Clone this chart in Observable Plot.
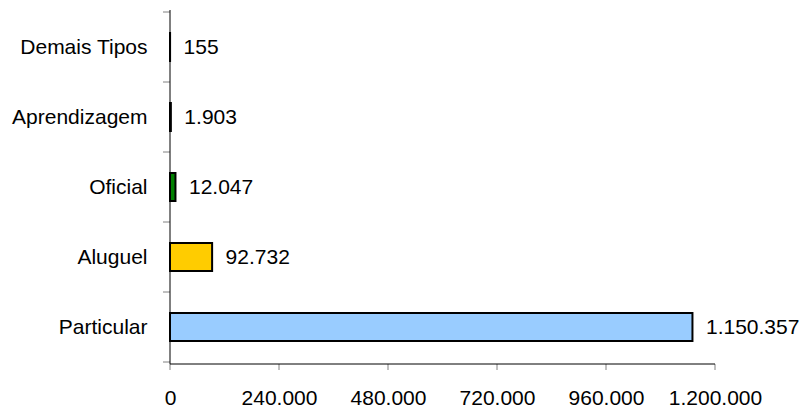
<!DOCTYPE html>
<html>
<head>
<meta charset="utf-8">
<script src="https://cdn.jsdelivr.net/npm/d3@7"></script>
<script src="https://cdn.jsdelivr.net/npm/@observablehq/plot@0.6"></script>
<style>
  html, body { margin: 0; padding: 0; background: #ffffff; }
</style>
</head>
<body>
<div id="chart"></div>
<script>
const categories = ["Demais Tipos", "Aprendizagem", "Oficial", "Aluguel", "Particular"];
const values = [155, 1903, 12047, 92732, 1150357];
const xTicks = [0, 240000, 480000, 720000, 960000, 1200000];
const barColors = ["#9999FF", "#993366", "#008000", "#FFCC00", "#99CCFF"];

const data = categories.map((c, i) => ({category: c, value: values[i]}));
const fmt = d3.formatLocale({decimal: ",", thousands: ".", grouping: [3], currency: ["", ""]}).format(",d");

// axis lines and tick marks drawn from the plot's own scales
const axisFrame = (index, scales, channels, dimensions) => {
  const {height, marginTop, marginBottom} = dimensions;
  const x = scales.x, y = scales.y;
  const g = d3.create("svg:g");
  const x0 = x(0);
  const yBottom = height - marginBottom;
  const starts = categories.map(c => y(c));
  const step = starts[1] - starts[0];
  const bounds = starts.concat([starts[starts.length - 1] + step]);
  for (const b of bounds) {
    g.append("line").attr("x1", x0 - 7).attr("x2", x0).attr("y1", b).attr("y2", b)
      .attr("stroke", "#808080").attr("stroke-width", 1);
  }
  for (const t of xTicks) {
    g.append("line").attr("x1", x(t)).attr("x2", x(t)).attr("y1", yBottom).attr("y2", yBottom + 6)
      .attr("stroke", "#808080").attr("stroke-width", 1);
  }
  g.append("line").attr("x1", x0).attr("x2", x0).attr("y1", marginTop).attr("y2", yBottom)
    .attr("stroke", "black").attr("stroke-width", 1);
  g.append("line").attr("x1", x0).attr("x2", x(xTicks[xTicks.length - 1])).attr("y1", yBottom).attr("y2", yBottom)
    .attr("stroke", "black").attr("stroke-width", 1);
  return g.node();
};

const chart = Plot.plot({
  width: 805,
  height: 409,
  marginLeft: 170,
  marginRight: 90,
  marginTop: 10,
  marginBottom: 45,
  style: {fontFamily: "'Liberation Sans', Arial, sans-serif", fontSize: "21px", background: "white", color: "black"},
  x: {domain: [0, 1200000], label: null},
  y: {domain: categories, padding: 0, label: null},
  color: {domain: categories, range: barColors},
  marks: [
    Plot.barX(data, {x: "value", y: "category", fill: "category", stroke: "black", strokeWidth: 2, insetTop: 21, insetBottom: 21}),
    axisFrame,
    Plot.axisX({ticks: xTicks, tickFormat: fmt, tickSize: 0, tickPadding: 26, label: null, fill: "black"}),
    Plot.axisY({tickSize: 0, tickPadding: 23, label: null, fill: "black"}),
    Plot.text(data, {x: "value", y: "category", text: d => fmt(d.value), textAnchor: "start", dx: 13, fill: "black"})
  ]
});
document.getElementById("chart").appendChild(chart);
</script>
</body>
</html>
